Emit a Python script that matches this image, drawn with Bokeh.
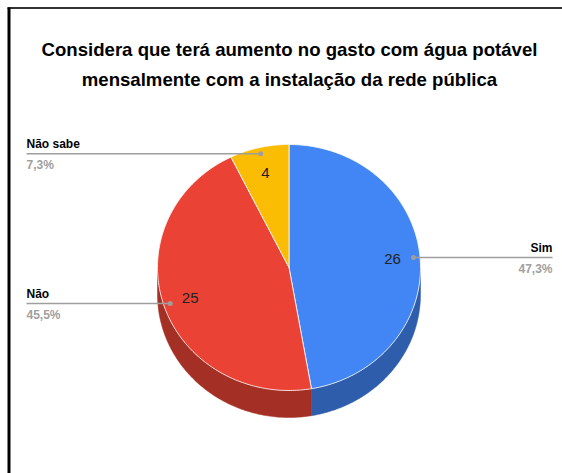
import numpy as np
from bokeh.plotting import figure
from bokeh.models import Range1d, ColumnDataSource
from bokeh.core.properties import value
from bokeh.embed import file_html
from bokeh.resources import INLINE

# ---- data ----
title_lines = ["Considera que terá aumento no gasto com água potável",
               "mensalmente com a instalação da rede pública"]
categories = ["Sim", "Não", "Não sabe"]
values = [26, 25, 4]
colors = ["#4285F4", "#EA4335", "#FBBC04"]
side_colors = ["#2E5DAB", "#A42F25", "#B08403"]

# ---- layout (page pixel coordinates) ----
W, H = 562, 473
CX, CY = 288.5, 267.0
RX, RY = 131.5, 123.0
DEPTH = 27.0
LABEL_F = 0.79
DOT_F = 0.95
LEFT_X, RIGHT_X = 26, 552
FONT = "Liberation Sans"

p = figure(width=W, height=H, output_backend="svg", toolbar_location=None,
           x_range=Range1d(0, W), y_range=Range1d(H, 0),
           min_border=0, background_fill_color="white", border_fill_color="white")
p.xaxis.visible = False
p.yaxis.visible = False
p.grid.visible = False
p.outline_line_color = None


def pt(theta_deg, f=1.0):
    t = np.radians(theta_deg)
    return CX + f * RX * np.sin(t), CY - f * RY * np.cos(t)


total = float(sum(values))
starts, ends = [], []
acc = 0.0
for v in values:
    starts.append(acc / total * 360.0)
    acc += v
    ends.append(acc / total * 360.0)

# 3D sides (visible between 90 and 270 degrees clockwise from top)
side_xs, side_ys, side_cols = [], [], []
for a, b, c in zip(starts, ends, side_colors):
    lo, hi = max(a, 90.0), min(b, 270.0)
    if hi <= lo:
        continue
    th = np.linspace(lo, hi, 120)
    x1, y1 = pt(th)
    xs = np.concatenate([x1, x1[::-1]])
    ys = np.concatenate([y1, (y1 + DEPTH)[::-1]])
    side_xs.append(list(xs)); side_ys.append(list(ys)); side_cols.append(c)
p.patches(side_xs, side_ys, fill_color=side_cols, line_color=side_cols, line_width=0.5)

# top faces
top_xs, top_ys = [], []
for a, b in zip(starts, ends):
    th = np.linspace(a, b, 200)
    x1, y1 = pt(th)
    top_xs.append([CX] + list(x1))
    top_ys.append([CY] + list(y1))
p.patches(top_xs, top_ys, fill_color=colors, line_color="white", line_width=0.8)

# value labels inside
mids = [(a + b) / 2 for a, b in zip(starts, ends)]
lx, ly = pt(np.array(mids), LABEL_F)
p.text(x=list(lx), y=list(ly), text=[str(v) for v in values],
       text_align="center", text_baseline="middle", text_font=value(FONT),
       text_font_size="15px", text_color="#222222")

# leader lines and outer labels
dx, dy = pt(np.array(mids), DOT_F)
seg_x0, seg_x1, seg_y = [], [], []
name_x, name_align, pct_text = [], [], []
for m, x0, y0, v in zip(mids, dx, dy, values):
    right = np.sin(np.radians(m)) > 0
    end_x = RIGHT_X if right else LEFT_X
    seg_x0.append(x0); seg_x1.append(end_x); seg_y.append(y0)
    name_x.append(end_x); name_align.append("right" if right else "left")
    pct_text.append(f"{v / total * 100:.1f}%".replace(".", ","))
p.segment(x0=seg_x0, y0=seg_y, x1=seg_x1, y1=seg_y, line_color="#9E9E9E", line_width=1.5)
p.scatter(x=seg_x0, y=seg_y, size=5, fill_color="#9E9E9E", line_color=None)
src = ColumnDataSource(dict(x=name_x, yn=[y - 3 for y in seg_y], yp=[y + 4 for y in seg_y],
                            name=categories, pct=pct_text, align=name_align))
p.text(x="x", y="yn", text="name", text_align="align", text_baseline="bottom",
       text_font=value(FONT), text_font_style="bold", text_font_size="12px",
       text_color="#000000", source=src)
p.text(x="x", y="yp", text="pct", text_align="align", text_baseline="top",
       text_font=value(FONT), text_font_style="bold", text_font_size="12px",
       text_color="#A0A0A0", source=src)

# title
p.text(x=[289, 289], y=[49, 79], text=title_lines, text_align="center",
       text_baseline="alphabetic", text_font=value(FONT), text_font_style="bold",
       text_font_size="18.6px", text_color="#000000")

# frame lines (top and left)
p.segment(x0=[7, 8.5], y0=[7.5, 7], x1=[W, 8.5], y1=[7.5, H],
          line_color=["#333333", "#000000"], line_width=[2, 3])

open("out.html", "w").write(file_html(p, INLINE))
